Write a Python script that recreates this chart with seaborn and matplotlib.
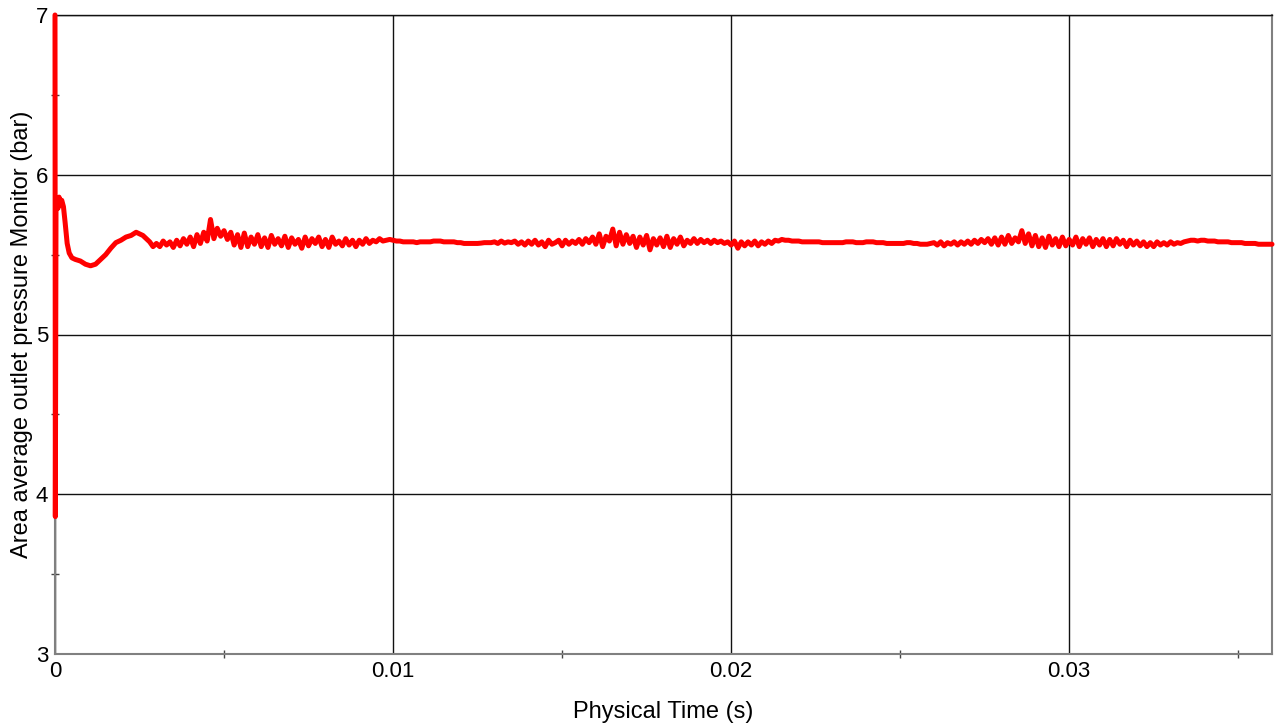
import numpy as np
import pandas as pd
import matplotlib
matplotlib.use("Agg")
import matplotlib.pyplot as plt
from matplotlib.ticker import MultipleLocator
import seaborn as sns

sns.set_style("white")
plt.rcParams['font.family'] = ['Liberation Sans', 'DejaVu Sans']

# start-up transient, time in ms
t_start_ms = [0.0, 0.01, 0.03, 0.06, 0.09, 0.12, 0.15, 0.2, 0.25, 0.3, 0.36,
              0.42, 0.5, 0.6, 0.75, 0.9, 1.05, 1.2, 1.35, 1.5, 1.65, 1.8,
              1.95, 2.1, 2.25, 2.4, 2.5, 2.6, 2.7, 2.8, 2.9]
p_start = [7.0, 3.86, 5.80, 5.85, 5.79, 5.86, 5.83, 5.84, 5.80, 5.70, 5.57,
           5.51, 5.48, 5.47, 5.46, 5.44, 5.43, 5.44, 5.47, 5.50, 5.54, 5.575,
           5.59, 5.61, 5.62, 5.64, 5.63, 5.62, 5.60, 5.58, 5.55]

# monitor output every 0.1 ms from 3.0 ms to 36.0 ms
main_t0_ms = 3.0
main_dt_ms = 0.1
p_main = [
    5.57, 5.55, 5.585, 5.56, 5.58, 5.545, 5.59, 5.555, 5.60, 5.565,
    5.61, 5.55, 5.625, 5.57, 5.64, 5.585, 5.72, 5.60, 5.665, 5.615,
    5.65, 5.595, 5.64, 5.56, 5.625, 5.545, 5.635, 5.55, 5.61, 5.565,
    5.625, 5.55, 5.605, 5.545, 5.62, 5.565, 5.60, 5.555, 5.615, 5.545,
    5.605, 5.565, 5.595, 5.54, 5.61, 5.555, 5.60, 5.57, 5.61, 5.55,
    5.595, 5.545, 5.61, 5.565, 5.585, 5.555, 5.60, 5.56, 5.59, 5.55,
    5.59, 5.565, 5.60, 5.57, 5.59, 5.58, 5.60, 5.585, 5.59, 5.595,
    5.59, 5.585, 5.585, 5.58, 5.58, 5.58, 5.58, 5.575, 5.58, 5.58,
    5.58, 5.58, 5.585, 5.585, 5.585, 5.58, 5.58, 5.58, 5.58, 5.575,
    5.575, 5.57, 5.57, 5.57, 5.57, 5.57, 5.572, 5.575, 5.575, 5.575,
    5.58, 5.57, 5.585, 5.572, 5.58, 5.575, 5.585, 5.565, 5.58, 5.56,
    5.585, 5.565, 5.59, 5.56, 5.58, 5.55, 5.59, 5.565, 5.575, 5.59,
    5.555, 5.59, 5.565, 5.585, 5.57, 5.595, 5.565, 5.60, 5.575, 5.61,
    5.565, 5.63, 5.55, 5.615, 5.585, 5.66, 5.555, 5.64, 5.565, 5.625,
    5.57, 5.615, 5.545, 5.61, 5.56, 5.62, 5.53, 5.60, 5.56, 5.605,
    5.55, 5.615, 5.545, 5.60, 5.565, 5.61, 5.555, 5.59, 5.57, 5.60,
    5.57, 5.595, 5.575, 5.59, 5.57, 5.59, 5.575, 5.585, 5.57, 5.58,
    5.56, 5.585, 5.54, 5.58, 5.555, 5.58, 5.56, 5.585, 5.555, 5.58,
    5.565, 5.585, 5.57, 5.59, 5.585, 5.595, 5.59, 5.59, 5.585, 5.585,
    5.585, 5.58, 5.58, 5.58, 5.58, 5.58, 5.58, 5.575, 5.575, 5.575,
    5.575, 5.575, 5.575, 5.575, 5.58, 5.58, 5.58, 5.575, 5.575, 5.575,
    5.58, 5.58, 5.58, 5.575, 5.575, 5.575, 5.57, 5.57, 5.57, 5.57,
    5.57, 5.57, 5.575, 5.575, 5.57, 5.57, 5.565, 5.565, 5.565, 5.57,
    5.575, 5.56, 5.58, 5.555, 5.575, 5.565, 5.58, 5.56, 5.58, 5.565,
    5.585, 5.565, 5.59, 5.57, 5.595, 5.575, 5.60, 5.565, 5.605, 5.56,
    5.61, 5.565, 5.62, 5.57, 5.605, 5.58, 5.65, 5.57, 5.63, 5.555,
    5.62, 5.55, 5.605, 5.545, 5.615, 5.56, 5.60, 5.55, 5.61, 5.555,
    5.595, 5.56, 5.61, 5.55, 5.60, 5.565, 5.605, 5.55, 5.595, 5.56,
    5.60, 5.55, 5.595, 5.555, 5.60, 5.565, 5.59, 5.55, 5.59, 5.56,
    5.585, 5.555, 5.58, 5.55, 5.575, 5.55, 5.58, 5.56, 5.575, 5.56,
    5.58, 5.565, 5.575, 5.57, 5.58, 5.585, 5.59, 5.59, 5.585, 5.59,
    5.59, 5.585, 5.585, 5.585, 5.58, 5.58, 5.58, 5.58, 5.575, 5.575,
    5.575, 5.575, 5.57, 5.57, 5.57, 5.57, 5.565, 5.565, 5.565, 5.565, 5.565,
]

t_main_ms = main_t0_ms + main_dt_ms * np.arange(len(p_main))
df = pd.DataFrame({
    "time": np.concatenate([np.array(t_start_ms), t_main_ms]) / 1000.0,
    "pressure": np.concatenate([p_start, p_main]),
})

fig = plt.figure(figsize=(12.8, 7.26), dpi=100)
ax = fig.add_axes([55 / 1280, 72 / 726, 1217 / 1280, 639 / 726])

sns.lineplot(data=df, x="time", y="pressure", color="#ff0000", linewidth=3.6,
             estimator=None, sort=False, ax=ax, zorder=5, clip_on=False)

ax.set_xlim(0, 0.036)
ax.set_ylim(3, 7)
ax.xaxis.set_major_locator(MultipleLocator(0.01))
ax.xaxis.set_minor_locator(MultipleLocator(0.005))
ax.yaxis.set_major_locator(MultipleLocator(1))
ax.yaxis.set_minor_locator(MultipleLocator(0.5))
ax.set_xticks([0, 0.01, 0.02, 0.03])
ax.set_xticklabels(["0", "0.01", "0.02", "0.03"])

ax.grid(True, which="major", color="#111111", linewidth=1.0)
ax.tick_params(axis="both", which="both", bottom=True, left=True,
               top=False, right=False)
ax.tick_params(axis="both", which="major", labelsize=16, length=0, pad=5,
               labelcolor="black")
ax.tick_params(axis="both", which="minor", direction="inout", length=6,
               width=1, color="#444444")
for side in ["left", "bottom", "right"]:
    ax.spines[side].set_color("#808080")
    ax.spines[side].set_linewidth(1.5)
ax.spines["top"].set_color("#111111")
ax.spines["top"].set_linewidth(1.0)

ax.set_xlabel("Physical Time (s)", fontsize=17, labelpad=14, color="black")
ax.set_ylabel("Area average outlet pressure Monitor (bar)", fontsize=17,
              labelpad=2, color="black")

fig.savefig("out.png", dpi=100)
